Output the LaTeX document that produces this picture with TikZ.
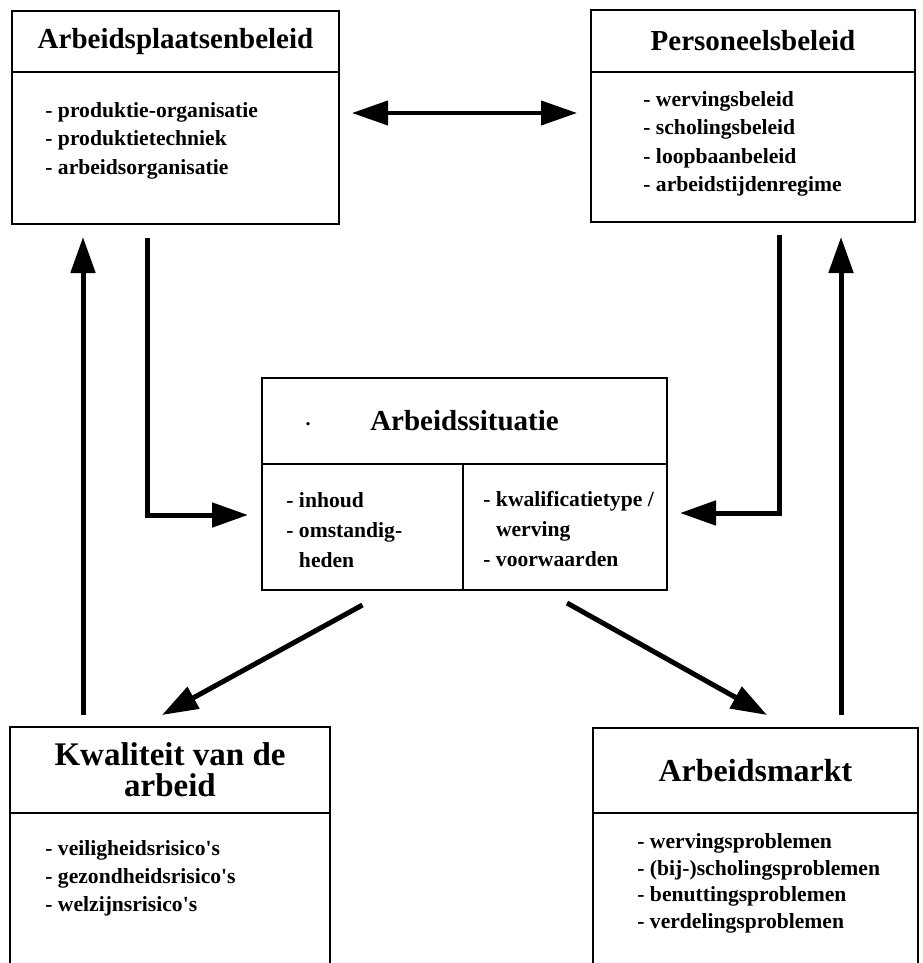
\documentclass[tikz,border=0pt]{standalone}
\usepackage{fontspec}
\setmainfont{Liberation Serif}[Ligatures=TeXOff]
\usetikzlibrary{arrows.meta}

\begin{document}
\begin{tikzpicture}[
    x=0.5pt, y=-0.5pt,
    >={Triangle[length=18pt,width=12pt]},
    box/.style={draw, line width=1.3pt, inner sep=0pt, outer sep=0pt, anchor=north west},
    head/.style={box, align=center, font=\bfseries\fontsize{14.5}{16}\selectfont},
    items/.style={inner sep=0pt, anchor=north west, align=left, font=\bfseries\fontsize{10.8}{14.2}\selectfont},
    arrow/.style={->, line width=2.5pt}
]
    \useasboundingbox (0,0) rectangle (922,963);
    \clip (0,0) rectangle (922,963);

    \node[head, minimum width=163.5pt, minimum height=30.5pt] (aplhead) at (12,11) {Arbeidsplaatsenbeleid};
    \node[box, minimum width=163.5pt, minimum height=76pt] (aplbody) at (aplhead.south west) {};
    \node[items] (aplitems) at (45,102) {- produktie-organisatie\\- produktietechniek\\- arbeidsorganisatie};

    \node[head, minimum width=162pt, minimum height=31pt] (perhead) at (591,10) {Personeelsbeleid};
    \node[box, minimum width=162pt, minimum height=75pt] (perbody) at (perhead.south west) {};
    \node[items] (peritems) at (643,91) {- wervingsbeleid\\- scholingsbeleid\\- loopbaanbeleid\\- arbeidstijdenregime};

    \node[head, minimum width=202.5pt, minimum height=43pt] (sithead) at (262,378) {Arbeidssituatie};
    \node[font=\bfseries] (sitdot) at (308,424) {.};
    \node[box, minimum width=100.5pt, minimum height=63pt] (sitleft) at (sithead.south west) {};
    \node[box, minimum width=102pt, minimum height=63pt] (sitright) at (sitleft.north east) {};
    \node[items, font=\bfseries\fontsize{10.8}{15}\selectfont] (sitlitems) at (286,492) {- inhoud\\- omstandig-\\\hphantom{- }heden};
    \node[items, font=\bfseries\fontsize{10.8}{15}\selectfont] (sitritems) at (483,491) {- kwalificatietype /\\\hphantom{- }werving\\- voorwaarden};

    \node[head, font=\bfseries\fontsize{16.5}{15.5}\selectfont, minimum width=160pt, minimum height=43pt] (kwahead) at (10,727) {Kwaliteit van de\\arbeid};
    \node[box, minimum width=160pt, minimum height=120pt] (kwabody) at (kwahead.south west) {};
    \node[items, font=\bfseries\fontsize{10.8}{14}\selectfont] (kwaitems) at (45,840) {- veiligheidsrisico's\\- gezondheidsrisico's\\- welzijnsrisico's};

    \node[head, font=\bfseries\fontsize{16}{15.5}\selectfont, minimum width=162.5pt, minimum height=42.5pt] (mkthead) at (593,728) {Arbeidsmarkt};
    \node[box, minimum width=162.5pt, minimum height=120pt] (mktbody) at (mkthead.south west) {};
    \node[items, font=\bfseries\fontsize{10.8}{13.4}\selectfont] (mktitems) at (637,833) {- wervingsproblemen\\- (bij-)scholingsproblemen\\- benuttingsproblemen\\- verdelingsproblemen};

    \draw[arrow, <->, line width=2pt] ([xshift=6.5pt,yshift=17.5pt]aplbody.east) -- ([xshift=-7pt,yshift=17pt]perbody.west);
    \draw[arrow] ([xshift=-14.25pt,yshift=-7pt]aplbody.south) |- ([xshift=-7pt,yshift=6pt]sitleft.west);
    \draw[arrow] ([xshift=13pt,yshift=-6.5pt]perbody.south) |- ([xshift=6.5pt,yshift=7pt]sitright.east);
    \draw[arrow] ([yshift=-7.5pt]sitleft.south) -- ([xshift=-4pt,yshift=6pt]kwahead.north);
    \draw[arrow] ([xshift=1pt,yshift=-6.5pt]sitright.south) -- ([xshift=5.75pt,yshift=6.5pt]mkthead.north);
    \draw[arrow] ([xshift=-43.5pt,yshift=6pt]kwahead.north) -- ([xshift=-46.25pt,yshift=-6.5pt]aplbody.south);
    \draw[arrow] ([xshift=42.75pt,yshift=6.5pt]mkthead.north) -- ([xshift=44pt,yshift=-7.5pt]perbody.south);
\end{tikzpicture}
\end{document}
